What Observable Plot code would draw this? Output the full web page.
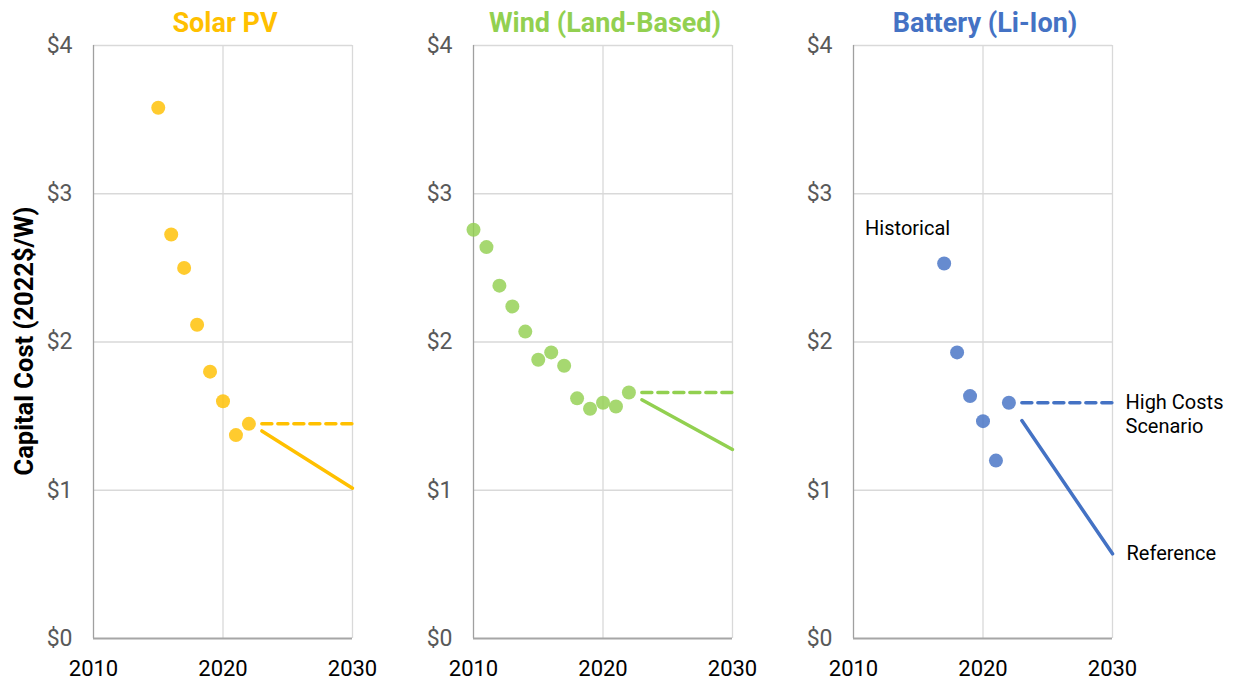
<!DOCTYPE html>
<html>
<head>
<meta charset="utf-8">
<script src="https://cdn.jsdelivr.net/npm/d3@7"></script>
<script src="https://cdn.jsdelivr.net/npm/@observablehq/plot@0.6"></script>
<style>
  html, body { margin: 0; padding: 0; background: #fff; }
  body { font-family: Roboto, "Noto Sans", sans-serif; }
  #wrap { position: relative; width: 1235px; height: 685px; overflow: hidden; }
  .panel { position: absolute; top: 0; }
  .title { position: absolute; top: 7px; font-weight: bold; font-size: 27px; line-height: 32px; transform: translateX(-50%); white-space: nowrap; }
  #ylab { position: absolute; left: -176px; top: 326px; width: 400px; height: 30px; line-height: 30px; text-align: center; transform: rotate(-90deg); font-weight: bold; font-size: 25.5px; white-space: nowrap; color: #000; }
</style>
</head>
<body>
<div id="wrap"></div>
<script>
// ---- Data ----
const panelTitles = ["Solar PV", "Wind (Land-Based)", "Battery (Li-Ion)"];
const yLabel = "Capital Cost (2022$/W)";
const xTicks = [2010, 2020, 2030];
const yTicks = [0, 1, 2, 3, 4];

const solarYears = [2015, 2016, 2017, 2018, 2019, 2020, 2021, 2022];
const solarCost  = [3.58, 2.725, 2.50, 2.116, 1.80, 1.60, 1.372, 1.448];
const solarProjYears = [2023, 2030];
const solarRef  = [1.40, 1.014];
const solarHigh = [1.448, 1.448];

const windYears = [2010, 2011, 2012, 2013, 2014, 2015, 2016, 2017, 2018, 2019, 2020, 2021, 2022];
const windCost  = [2.757, 2.64, 2.38, 2.24, 2.07, 1.88, 1.93, 1.84, 1.62, 1.55, 1.59, 1.565, 1.659];
const windProjYears = [2023, 2030];
const windRef  = [1.61, 1.275];
const windHigh = [1.659, 1.659];

const batteryYears = [2017, 2018, 2019, 2020, 2021, 2022];
const batteryCost  = [2.53, 1.93, 1.635, 1.466, 1.20, 1.59];
const batteryProjYears = [2023, 2030];
const batteryRef  = [1.47, 0.571];
const batteryHigh = [1.59, 1.59];

const labelHistorical = "Historical";
const labelHigh = "High Costs\nScenario";
const labelRef = "Reference";

const colors = ["#FFC000", "#92D050", "#4472C4"];

// ---- Layout ----
const wrap = document.getElementById("wrap");
const offsets = [0, 380, 760];
const widths = [380, 380, 475];
const mL = 93, mR = 28, mT = 45, mB = 47, H = 685;

function makePanel(i, years, cost, pYears, ref, high, extra) {
  const color = colors[i];
  const plot = Plot.plot({
    width: widths[i],
    height: H,
    marginLeft: mL,
    marginRight: widths[i] - mL - (380 - mL - mR),
    marginTop: mT,
    marginBottom: mB,
    style: { fontFamily: "Roboto, sans-serif", background: "transparent", overflow: "visible" },
    x: { domain: [2010, 2030] },
    y: { domain: [0, 4] },
    marks: [
      Plot.gridY({ ticks: [1, 2, 3, 4], stroke: "#d9d9d9", strokeOpacity: 1, strokeWidth: 1.3 }),
      Plot.gridX({ ticks: [2020, 2030], stroke: "#d9d9d9", strokeOpacity: 1, strokeWidth: 1.3 }),
      Plot.ruleX([2010], { stroke: "#a0a0a0", strokeWidth: 1.3 }),
      Plot.ruleY([0], { stroke: "#a6a6a6", strokeWidth: 1.8 }),
      Plot.axisY({ ticks: yTicks, tickFormat: d => "$" + d, tickSize: 0, tickPadding: 21, fontSize: 23, fill: "#595959", label: null }),
      Plot.axisX({ ticks: xTicks, tickFormat: d => String(d), tickSize: 0, tickPadding: 22, fontSize: 22, fill: "#000", label: null }),
      Plot.line(pYears, { x: pYears, y: high, stroke: color, strokeWidth: 3.5, strokeDasharray: "10,6" }),
      Plot.line(pYears, { x: pYears, y: ref, stroke: color, strokeWidth: 3.5 }),
      Plot.dot(years, { x: years, y: cost, r: 7, fill: color, fillOpacity: 0.82, stroke: "none" }),
      ...(extra || [])
    ]
  });
  const div = document.createElement("div");
  div.className = "panel";
  div.style.left = offsets[i] + "px";
  div.appendChild(plot);
  wrap.appendChild(div);

  const t = document.createElement("div");
  t.className = "title";
  t.style.color = color;
  t.style.left = (offsets[i] + mL + 130 + 2) + "px";
  t.textContent = panelTitles[i];
  wrap.appendChild(t);
}

makePanel(0, solarYears, solarCost, solarProjYears, solarRef, solarHigh);
makePanel(1, windYears, windCost, windProjYears, windRef, windHigh);
makePanel(2, batteryYears, batteryCost, batteryProjYears, batteryRef, batteryHigh, [
  Plot.text([labelHistorical], { x: [batteryYears[0]], y: [batteryCost[0]], text: d => d, textAnchor: "end", dx: 6, dy: -35, fontSize: 20, fill: "#000" }),
  Plot.text([labelHigh], { x: [batteryProjYears[1]], y: [batteryHigh[1]], text: d => d, textAnchor: "start", lineAnchor: "middle", lineHeight: 1.2, dx: 13, dy: 11, fontSize: 20, fill: "#000" }),
  Plot.text([labelRef], { x: [batteryProjYears[1]], y: [batteryRef[1]], text: d => d, textAnchor: "start", dx: 14, dy: 0, fontSize: 20, fill: "#000" })
]);

const yl = document.createElement("div");
yl.id = "ylab";
yl.textContent = yLabel;
wrap.appendChild(yl);
</script>
</body>
</html>
